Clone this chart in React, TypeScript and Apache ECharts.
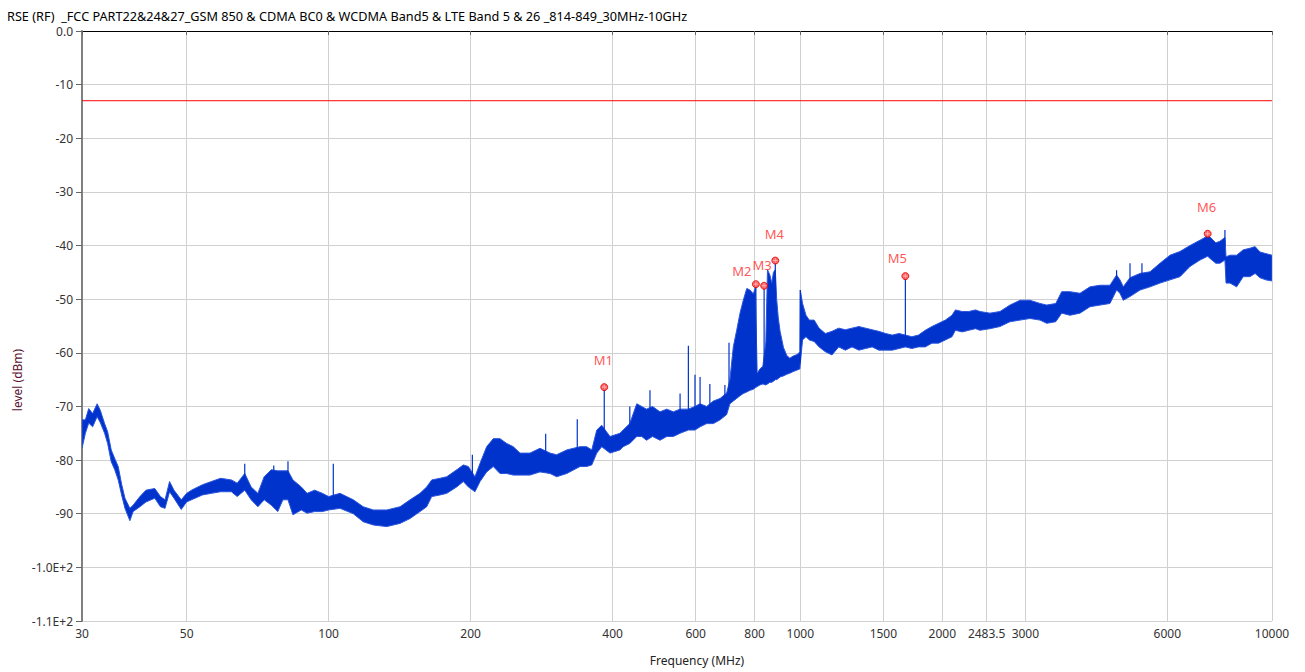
import React, { useEffect, useRef } from 'react';
import * as echarts from 'echarts';

const chartTitle = 'RSE (RF)  _FCC PART22&24&27_GSM 850 & CDMA BC0 & WCDMA Band5 & LTE Band 5 & 26 _814-849_30MHz-10GHz';
const xAxisTitle = 'Frequency (MHz)';
const yAxisTitle = 'level (dBm)';
const xTickValues = [30, 50, 100, 200, 400, 600, 800, 1000, 1500, 2000, 2483.5, 3000, 6000, 10000];
const limitLevel = -13;

// Trace envelope (MHz, dBm)
const traceFreq = [
  30, 30.5, 31, 31.6, 32.3, 32.8, 33.5, 34, 34.6, 35.2, 35.8, 36.4, 37, 37.9, 38.5, 39.8, 41, 42.8, 44, 45,
  46, 47, 48.7, 50, 51.2, 54, 56.4, 59, 62.2, 64, 66.4, 68.5, 70.8, 73, 75.6, 78, 80, 82, 84, 87.5,
  90, 93.4, 97, 100, 105.7, 112.8, 118.4, 124.4, 132.8, 141.7, 148.8, 156.2, 161.4, 165.4, 172.2, 178, 186.9, 193, 197.8, 204.3,
  209.4, 216.3, 223.4, 230.8, 238.5, 246.3, 254.5, 267.2, 280.6, 294.7, 304.4, 319.8, 341.2, 352.4, 361.3, 370.2, 379.3, 394.9, 414.7, 421,
  435, 450, 461, 472, 486, 504, 521, 538, 556, 579, 598, 613, 633, 654, 676, 698, 709, 721, 733, 745,
  757, 770, 782, 795, 803, 810, 821, 833, 845, 852, 862, 870, 877, 885, 891, 898, 906, 921, 936, 950,
  966, 985, 998, 1000, 1011, 1028, 1045, 1070, 1096, 1130, 1167, 1206, 1246, 1287, 1331, 1375, 1420, 1467, 1517, 1567,
  1619, 1670, 1724, 1780, 1840, 1901, 1964, 2030, 2097, 2132, 2203, 2276, 2352, 2404, 2524, 2650, 2783, 2922, 3068, 3222,
  3330, 3480, 3582, 3729, 3917, 4113, 4319, 4534, 4683, 4761, 4838, 5000, 5250, 5513, 5789, 6078, 6382, 6701, 7037, 7305,
  7389, 7600, 7756, 7947, 7990, 8145, 8415, 8690, 8981, 9207, 9431, 9700, 10000,
];
const traceLow = [
  -77.8, -75, -73.1, -73.8, -71.9, -73, -75, -76.9, -80.3, -81.8, -83.7, -86.5, -89, -91.3, -89.6, -88.7, -87.8, -87.1, -88.7, -89,
  -85.9, -87.1, -89.2, -87.8, -87.4, -86.5, -86.2, -85.9, -85.9, -86.8, -85.6, -87.4, -88.7, -87.4, -88.4, -89.6, -87.4, -87.4, -90.2, -89.3,
  -89.9, -89.6, -89.6, -89.3, -89, -90, -91.5, -92.1, -92.4, -91.8, -90.9, -89.6, -88.7, -86.8, -86.5, -86.2, -85, -84, -85, -85.9,
  -84, -82.2, -81.2, -82.5, -82.5, -82.8, -82.8, -82.8, -82.2, -82.5, -83.1, -82.5, -81.2, -81.2, -80.9, -78.7, -77.5, -78.7, -78.1, -77.5,
  -76.9, -75.6, -75.6, -76.3, -75.6, -76.3, -75.6, -75.6, -75, -74.4, -74.4, -73.8, -73.2, -73.2, -72.5, -71.5, -69.5, -69, -68.5, -68,
  -67.6, -67.3, -67, -66.8, -66.5, -66.3, -66, -65.8, -66, -65.8, -65.5, -65.5, -65.3, -65, -65, -64.8, -64.5, -64.3, -64, -63.8,
  -63.5, -63.2, -63, -62, -57.6, -57, -57.6, -57.9, -58.9, -59.8, -60.4, -58.9, -59.5, -58.9, -59.5, -59.2, -58.9, -59.5, -59.5, -59.5,
  -59.2, -58.9, -59.2, -58.9, -58.9, -58.2, -58.2, -57.6, -57, -55.8, -56.1, -55.8, -55.5, -55.8, -55.5, -55.1, -54.2, -53.9, -53.6, -53.9,
  -54.5, -54.2, -52.6, -53, -52.6, -51.4, -51.1, -50.8, -48.3, -48.9, -50.2, -49.5, -48.3, -47.7, -47, -46.4, -45.8, -43.9, -42.7, -42,
  -42.4, -43.3, -43.3, -42.7, -47, -47, -47.7, -45.8, -45.8, -45.2, -46, -46.4, -46.6,
];
const traceHigh = [
  -72.5, -72.5, -70.4, -71.3, -69.5, -70.7, -73.2, -74.7, -78.1, -79.7, -81.2, -84.5, -87.1, -89, -88.4, -86.8, -85.6, -85.3, -86.8, -87.4,
  -84, -85.6, -87.4, -86.2, -85.6, -84.6, -84, -83.4, -83.7, -84.3, -82.5, -85, -86.2, -83.1, -81.8, -82, -82, -82, -83.7, -85,
  -86.2, -85.6, -86.2, -86.8, -86.2, -87.4, -88.7, -89.3, -89.3, -88.7, -87.4, -86.2, -85, -83.7, -83.4, -83.1, -81.8, -80.9, -81.2, -83.1,
  -80.6, -77.5, -76, -76, -76.9, -77.5, -78.7, -78.7, -77.8, -78.7, -79, -78.1, -77.5, -77.5, -78.1, -74.4, -73.5, -75.6, -75, -74.4,
  -73.2, -69.5, -70, -70.5, -70, -71, -70.5, -71, -70.5, -70.5, -70, -69.5, -70, -69, -68.5, -67.5, -65.1, -58.9, -55.8, -52.6,
  -50.2, -48, -48.3, -49, -47.8, -63.8, -63, -62.5, -58, -44.5, -45.5, -47, -45, -44.5, -50, -53.5, -56, -59, -60.5, -61,
  -60.6, -60.3, -59.8, -48.3, -50.8, -53, -53.9, -53.9, -55.4, -56.4, -56, -55.4, -55.7, -55.4, -55.1, -55.4, -55.7, -56, -56.4, -56.7,
  -56.4, -56.7, -57, -56.7, -55.8, -55.1, -54.5, -53.9, -53, -52, -52.3, -52.3, -52, -52.3, -52.6, -52.3, -51.1, -50.2, -50.2, -50.8,
  -51.1, -50.8, -48.6, -48.6, -48.9, -47.7, -47.4, -47.4, -45.5, -46.4, -47.7, -46, -45.2, -44.9, -43.3, -41.8, -41.1, -40, -39, -38.2,
  -38.4, -39.5, -39.2, -38.5, -42.1, -41.8, -41.8, -40.8, -40.5, -40.2, -41.2, -41.5, -41.8,
];

// Narrow spurious spikes (MHz, base dBm, top dBm)
const spikeFreq = [66.4, 76.5, 82, 102.3, 201.7, 288.5, 336.6, 384, 435, 480, 556, 579, 598, 613, 643, 692, 706, 805, 838, 885, 1000, 1670, 4683, 5000, 5300, 7947];
const spikeBase = [-85, -87, -86, -87.5, -84, -81, -80, -76, -75, -74, -73, -73, -72, -72, -71, -70, -69, -66, -65, -63, -62, -58, -48, -47, -46, -40];
const spikeTop = [-80.7, -81, -80.2, -80.7, -79, -75.1, -72.4, -66.4, -70, -67, -67.6, -58.7, -64.1, -64.5, -65.8, -66, -58.1, -47.2, -47.5, -42.8, -48.3, -45.7, -44.6, -43.3, -43.3, -37.1];

// Markers
const markerNames = ['M1', 'M2', 'M3', 'M4', 'M5', 'M6'];
const markerFreq = [384, 805, 838, 885, 1670, 7305];
const markerLevel = [-66.4, -47.2, -47.5, -42.8, -45.7, -37.8];

const TRACE = '#0033cc';
const FONT = '"Noto Sans", "DejaVu Sans", sans-serif';
const labelOffsets: Record<string, number[]> = {
  M1: [-1, -27], M2: [-14, -13], M3: [-2, -21], M4: [-1, -27], M5: [-8, -18], M6: [-1, -27],
};

function yLabel(v: number): string {
  if (v === 0) return '0.0';
  if (v <= -100) return (v / 100).toFixed(1) + 'E+2';
  return String(v);
}

export default function App() {
  const ref = useRef<HTMLDivElement>(null);
  useEffect(() => {
    if (!ref.current) return;
    const chart = echarts.init(ref.current, null, { renderer: 'svg' });

    const bandSeries = {
      type: 'custom',
      silent: true,
      clip: true,
      data: [[traceFreq[0], traceLow[0]]],
      renderItem: (params: any, api: any) => {
        if (params.dataIndex !== 0) return null;
        const pts: number[][] = [];
        for (let i = 0; i < traceFreq.length; i++) pts.push(api.coord([traceFreq[i], traceHigh[i]]));
        for (let i = traceFreq.length - 1; i >= 0; i--) pts.push(api.coord([traceFreq[i], traceLow[i]]));
        return {
          type: 'polygon',
          shape: { points: pts },
          style: { fill: TRACE, stroke: '#2a55dd', lineWidth: 1 },
        };
      },
      z: 3,
    };

    const spikeSeries = {
      type: 'custom',
      silent: true,
      data: spikeFreq.map((f, i) => [f, spikeBase[i], spikeTop[i]]),
      renderItem: (params: any, api: any) => {
        const f = api.value(0);
        const p1 = api.coord([f, api.value(1)]);
        const p2 = api.coord([f, api.value(2)]);
        return {
          type: 'line',
          shape: { x1: p1[0], y1: p1[1], x2: p2[0], y2: p2[1] },
          style: { stroke: TRACE, lineWidth: 1.2 },
        };
      },
      z: 4,
    };

    const option: any = {
      animation: false,
      backgroundColor: '#ffffff',
      title: {
        text: chartTitle,
        left: 2,
        top: 4,
        textStyle: { fontFamily: FONT, fontSize: 12.7, fontWeight: 'normal', color: '#000' },
      },
      graphic: [
        {
          type: 'text',
          x: 697,
          y: 660,
          silent: true,
          style: { text: xAxisTitle, fontFamily: FONT, fontSize: 12, fill: '#222', align: 'center', verticalAlign: 'middle' },
        },
        {
          type: 'text',
          x: 17,
          y: 380,
          rotation: Math.PI / 2,
          silent: true,
          style: { text: yAxisTitle, fontFamily: FONT, fontSize: 12, fill: '#5a1030', align: 'center', verticalAlign: 'middle' },
        },
      ],
      grid: { left: 82, right: 33, top: 31, bottom: 51, containLabel: false },
      xAxis: [
        {
          type: 'log',
          logBase: 10,
          min: 30,
          max: 10000,
          axisLine: { show: true, lineStyle: { color: '#999999', width: 1 } },
          axisTick: { show: true, length: 4, inside: false, lineStyle: { color: '#666' }, customValues: xTickValues },
          axisLabel: {
            show: true,
            customValues: xTickValues,
            margin: 6,
            fontFamily: FONT,
            fontSize: 12,
            color: '#333',
            formatter: (v: number) => String(Number(Number(v).toPrecision(6))),
          },
          splitLine: { show: true, lineStyle: { color: '#d0d0d0', width: 1 } },
          minorTick: { show: false },
          minorSplitLine: { show: false },
        },
        {
          type: 'log',
          logBase: 10,
          min: 30,
          max: 10000,
          position: 'top',
          axisLine: { show: true, lineStyle: { color: '#000', width: 1 } },
          axisTick: { show: false },
          axisLabel: { show: false },
          splitLine: { show: false },
        },
      ],
      yAxis: {
        type: 'value',
        min: -110,
        max: 0,
        interval: 10,
        axisLine: { show: true, lineStyle: { color: '#808080', width: 2 } },
        axisTick: { show: true, length: 6, lineStyle: { color: '#666' } },
        axisLabel: { margin: 9, fontFamily: FONT, fontSize: 12, color: '#333', formatter: yLabel },
        splitLine: { show: true, lineStyle: { color: '#d0d0d0', width: 1 } },
      },
      series: [
        bandSeries,
        spikeSeries,
        {
          type: 'line',
          name: 'limit',
          data: [[30, limitLevel], [10000, limitLevel]],
          symbol: 'none',
          silent: true,
          lineStyle: { color: '#ff0000', width: 1 },
          z: 5,
        },
        {
          type: 'scatter',
          name: 'markers',
          silent: true,
          symbol: 'circle',
          symbolSize: 7,
          itemStyle: { color: '#ff3b3b', borderColor: '#e00000', borderWidth: 1 },
          data: markerNames.map((n, i) => ({
            name: n,
            value: [markerFreq[i], markerLevel[i]],
            label: {
              show: true,
              position: 'inside',
              offset: labelOffsets[n],
              formatter: n,
              color: '#ff2a2a',
              fontFamily: FONT,
              fontSize: 13,
            },
          })),
          z: 6,
        },
        {
          type: 'scatter',
          name: 'markerCross',
          silent: true,
          symbol: 'path://M0,5L10,5M5,0L5,10',
          symbolSize: 5,
          itemStyle: { color: 'none', borderColor: '#ffc0c0', borderWidth: 1 },
          data: markerFreq.map((f, i) => [f, markerLevel[i]]),
          z: 7,
        },
      ],
    };
    chart.setOption(option);
    return () => chart.dispose();
  }, []);

  return (
    <div
      ref={ref}
      style={{ position: 'fixed', left: 0, top: 0, width: 1305, height: 672, background: '#fff' }}
    />
  );
}
